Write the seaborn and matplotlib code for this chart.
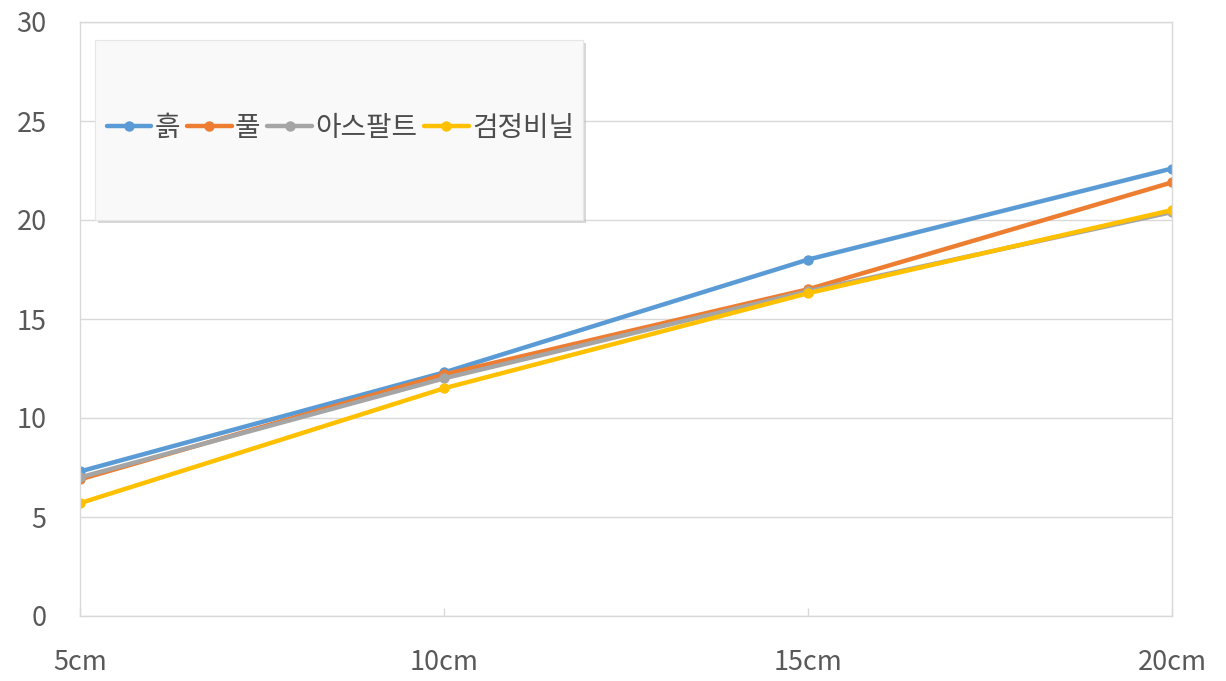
import matplotlib
matplotlib.use("Agg")
import matplotlib.pyplot as plt
from matplotlib.patches import Rectangle
import seaborn as sns
import pandas as pd

categories = ["5cm", "10cm", "15cm", "20cm"]
series_names = ["흙", "풀", "아스팔트", "검정비닐"]
soil = [7.3, 12.3, 18.0, 22.6]
grass = [6.9, 12.2, 16.5, 21.9]
asphalt = [7.0, 12.0, 16.4, 20.4]
black_vinyl = [5.7, 11.5, 16.3, 20.5]
yticks = [0, 5, 10, 15, 20, 25, 30]
colors = ["#5B9BD5", "#ED7D31", "#A5A5A5", "#FFC000"]

sns.set_theme(style="white")
plt.rcParams["font.family"] = ["Noto Sans CJK KR", "DejaVu Sans"]

rows = []
for name, vals in zip(series_names, [soil, grass, asphalt, black_vinyl]):
    for c, v in zip(categories, vals):
        rows.append({"거리": c, "값": v, "종류": name})
df = pd.DataFrame(rows)

fig = plt.figure(figsize=(12.26, 6.81), dpi=100)
ax = fig.add_axes([80 / 1226, 65 / 681, (1172 - 80) / 1226, (616 - 22) / 681])

sns.lineplot(data=df, x="거리", y="값", hue="종류", hue_order=series_names,
             palette=colors, sort=False, marker="o", markersize=7.5,
             markeredgewidth=0, linewidth=3.2, ax=ax, legend=True)

ax.set_xlim(0, 3)
ax.set_ylim(0, 30)
ax.set_yticks(yticks)
ax.set_xlabel("")
ax.set_ylabel("")
ax.grid(axis="y", color="#d9d9d9", linewidth=1)
ax.grid(axis="x", visible=False)
for s in ax.spines.values():
    s.set_visible(True)
    s.set_color("#d9d9d9")
    s.set_linewidth(1)
ax.tick_params(axis="y", length=0, pad=24, labelsize=19.5, labelcolor="#595959")
ax.tick_params(axis="x", direction="in", length=6, width=1, color="#d9d9d9",
               pad=24, labelsize=19.5, labelcolor="#595959", bottom=True)

# legend box with shadow
lx, ly, lw, lh = 95 / 1226, (681 - 220) / 681, (583 - 95) / 1226, 180 / 681
shadow = Rectangle((lx + 3 / 1226, ly - 3 / 681), lw, lh, transform=fig.transFigure,
                   facecolor="#bfbfbf", edgecolor="none", alpha=0.6, zorder=5)
box = Rectangle((lx, ly), lw, lh, transform=fig.transFigure,
                facecolor="#f9f9f9", edgecolor="#e6e6e6", linewidth=0.8, zorder=6)
fig.patches.extend([shadow, box])

handles, labels = ax.get_legend_handles_labels()
ax.legend_.remove()
leg = fig.legend(handles, labels, loc="center left",
                 bbox_to_anchor=(93 / 1226, 1 - 128 / 681), ncol=4,
                 frameon=False, fontsize=20, handlelength=1.6,
                 handletextpad=0.12, columnspacing=0.25, borderpad=0,
                 labelcolor="#4d4d4d")
leg.set_zorder(7)

fig.savefig("out.png", dpi=100)
